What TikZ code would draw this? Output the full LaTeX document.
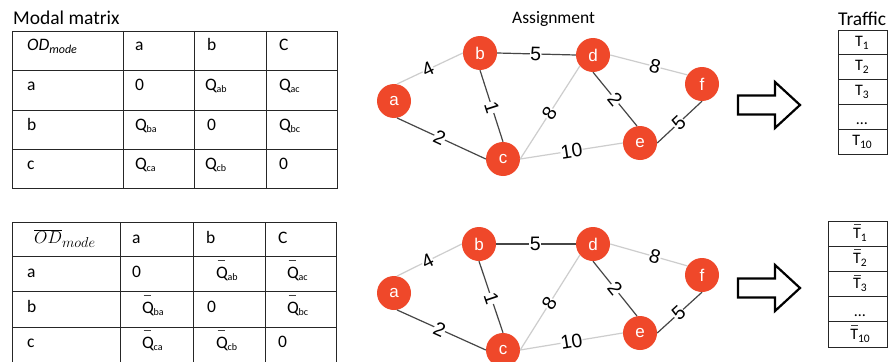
\documentclass[tikz,border=0pt]{standalone}
\usepackage{fontspec}
\setmainfont{Carlito}
\newfontfamily\graphfont{Liberation Sans}

\newcommand\fs[1]{\fontsize{#1}{#1}\selectfont}
% flow entries Q_xy, with and without a bar
\newcommand\Qs[1]{Q\kern-0.3pt{\fs{10}\raisebox{-2pt}{#1}}}
\newcommand\Qb[1]{\rlap{\kern1.5pt\textcolor{black!75}{\rule[17pt]{7pt}{0.8pt}}}Q\kern-0.3pt{\fs{10}\raisebox{-2pt}{#1}}}
% traffic entries T_i, with and without a bar
\newcommand\Ts[1]{T{\fs{11.5}\raisebox{-3pt}{#1}}}
\newcommand\Tb[1]{\rlap{\kern0.8pt\textcolor{black!75}{\rule[13.5pt]{6.5pt}{0.8pt}}}T{\fs{11.5}\raisebox{-3pt}{#1}}}

\definecolor{nodered}{RGB}{239,72,42}
\definecolor{darkedge}{RGB}{70,70,70}
\definecolor{lightedge}{RGB}{205,205,205}

\tikzset{
  title/.style={anchor=base west,inner sep=0pt,font=\fs{19.5}},
  cell/.style={anchor=base west,inner sep=0pt,font=\fs{17.5}},
  tcell/.style={anchor=base,inner sep=0pt,font=\fs{16}},
  grid/.style={draw=black!85,line width=0.9pt},
  vertex/.style={circle,fill=nodered,minimum size=34pt,inner sep=0pt,text=white,font=\graphfont\fs{17}},
  heavy/.style={draw=darkedge,line width=1.2pt},
  lightw/.style={draw=lightedge,line width=1.2pt},
  weight/.style={sloped,fill=white,inner sep=0.3pt,text=black,font=\graphfont\fs{19.5}},
  bigarrow/.style={draw=black,fill=white,line width=2.2pt,miter limit=10},
}

% the weighted network; edges leave and enter the vertices at fixed ports
\newcommand\network[1]{%
  \path[lightw] (#1a.80)    -- node[weight,pos=0.47] {4}  (#1b.180);
  \path[heavy]  (#1b.east)  -- node[weight,pos=0.49] {5}  (#1d.west);
  \path[heavy]  (#1b.south) -- node[weight,pos=0.52] {1}  (#1c.north);
  \path[heavy]  (#1a.-80)   -- node[weight,pos=0.48] {2}  (#1c.180);
  \path[lightw] (#1c.east)  -- node[weight,pos=0.49] {8}  (#1d.220);
  \path[lightw] (#1d.east)  -- node[weight,pos=0.58] {8}  (#1f.148);
  \path[heavy]  (#1d.south) -- node[weight,pos=0.5]  {2}  (#1e.100);
  \path[lightw] (#1c.east)  -- node[weight,pos=0.5]  {10} (#1e.180);
  \path[heavy]  (#1e.east)  -- node[weight,pos=0.48] {5}  (#1f.south);
}

\begin{document}
\begin{tikzpicture}[x=1pt,y=-1pt]
\clip (0,0) rectangle (893,361);
\fill[white] (0,0) rectangle (893,361);

% ---------- titles ----------
\node[title] (ttlmodal) at (13,25) {Modal matrix};
\node[title,font=\fs{17.5}] (ttlassign) at (512,24) {Assignment};
\node[title] (ttltraffic) at (838,26) {Traffic};

% ---------- upper OD table ----------
\draw[grid] (12.5,31) rectangle (337,188);
\foreach \x in {123,194,266} \draw[grid] (\x,31) -- (\x,188);
\foreach \y in {70,110,149} \draw[grid] (12.5,\y) -- (337,\y);

\node[cell] (u00) at (27,51) {\textit{OD}{\fs{12}\itshape\raisebox{-2pt}{mode}}};
\node[cell] (u01) at (135,51) {a};
\node[cell] (u02) at (207,51) {b};
\node[cell] (u03) at (279,51) {C};
\node[cell] (u10) at (27,90) {a};
\node[cell] (u11) at (135,90) {0};
\node[cell] (u12) at (205,90) {\Qs{ab}};
\node[cell] (u13) at (279,90) {\Qs{ac}};
\node[cell] (u20) at (27,130) {b};
\node[cell] (u21) at (135,130) {\Qs{ba}};
\node[cell] (u22) at (207,130) {0};
\node[cell] (u23) at (279,130) {\Qs{bc}};
\node[cell] (u30) at (27,169) {c};
\node[cell] (u31) at (135,169) {\Qs{ca}};
\node[cell] (u32) at (205,169) {\Qs{cb}};
\node[cell] (u33) at (279,169) {0};

% ---------- lower OD table (runs past the lower edge) ----------
\draw[grid] (12.5,380) -- (12.5,222) -- (336,222) -- (336,380);
\foreach \x in {120,193,265} \draw[grid] (\x,222) -- (\x,380);
\foreach \y in {256,291,327} \draw[grid] (12.5,\y) -- (336,\y);

\node[cell,font=\fs{19}] (l00) at (34,243) {$\overline{OD}_{mode}$};
\node[cell] (l01) at (132,243) {a};
\node[cell] (l02) at (206,243) {b};
\node[cell] (l03) at (278,243) {C};
\node[cell] (l10) at (27,277) {a};
\node[cell] (l11) at (132,277) {0};
\node[cell] (l12) at (216,278) {\Qb{ab}};
\node[cell] (l13) at (287,278) {\Qb{ac}};
\node[cell] (l20) at (27,312) {b};
\node[cell] (l21) at (142,313) {\Qb{ba}};
\node[cell] (l22) at (207,312) {0};
\node[cell] (l23) at (287,313) {\Qb{bc}};
\node[cell] (l30) at (27,347) {c};
\node[cell] (l31) at (142,348) {\Qb{ca}};
\node[cell] (l32) at (216,348) {\Qb{cb}};
\node[cell] (l33) at (278,347) {0};

% ---------- upper network ----------
\node[vertex] (ua) at (394,101) {a};
\node[vertex] (ub) at (480,53) {b};
\node[vertex] (uc) at (503,159) {c};
\node[vertex] (ud) at (593,55) {d};
\node[vertex] (ue) at (640,143) {e};
\node[vertex] (uf) at (702,84) {f};
\network{u}

% ---------- lower network ----------
\node[vertex] (la) at (394,293) {a};
\node[vertex] (lb) at (479,244) {b};
\node[vertex] (lc) at (503,350) {c};
\node[vertex] (ld) at (593,244) {d};
\node[vertex] (le) at (640,333) {e};
\node[vertex] (lf) at (702,275) {f};
\network{l}

% ---------- block arrows ----------
\foreach \cy in {105,288}
  \draw[bigarrow] (738,\cy-9.5) -- (775,\cy-9.5) -- (775,\cy-23) -- (800,\cy)
    -- (775,\cy+23) -- (775,\cy+9.5) -- (738,\cy+9.5) -- cycle;

% ---------- upper traffic column ----------
\draw[grid] (838,30) rectangle (887,154);
\foreach \y in {54.8,79.6,104.4,129.2} \draw[grid] (838,\y) -- (887,\y);
\node[tcell] (ut1) at (862,46) {\Ts{1}};
\node[tcell] (ut2) at (862,70.8) {\Ts{2}};
\node[tcell] (ut3) at (862,95.6) {\Ts{3}};
\node[tcell] (ut4) at (862,124.4) {\dots};
\node[tcell] (ut5) at (862,145.2) {\Ts{10}};

% ---------- lower traffic column ----------
\draw[grid] (828,221) rectangle (887,347);
\foreach \y in {246.2,271.4,296.6,321.8} \draw[grid] (828,\y) -- (887,\y);
\node[tcell] (lt1) at (860,238.5) {\Tb{1}};
\node[tcell] (lt2) at (860,263.7) {\Tb{2}};
\node[tcell] (lt3) at (860,288.9) {\Tb{3}};
\node[tcell] (lt4) at (860,316.6) {\dots};
\node[tcell] (lt5) at (860,339.3) {\Tb{10}};
\end{tikzpicture}
\end{document}
